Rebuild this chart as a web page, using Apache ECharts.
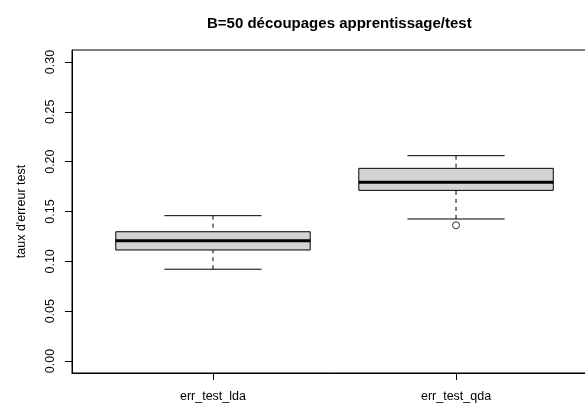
<!DOCTYPE html>
<html>
<head>
<meta charset="utf-8">
<script src="https://cdn.jsdelivr.net/npm/echarts@6/dist/echarts.min.js"></script>
<style>html,body{margin:0;padding:0;background:#fff}#c{width:585px;height:405px}</style>
</head>
<body>
<div id="c"></div>
<script>
// Data
const categories = ['err_test_lda', 'err_test_qda'];
const whiskerLow = [0.0921, 0.1425];
const q1 = [0.1114, 0.1712];
const median = [0.1207, 0.1793];
const q3 = [0.1297, 0.1933];
const whiskerHigh = [0.1458, 0.2060];
const outliers = [[2, 0.1362]];
const yTicks = [0, 0.05, 0.10, 0.15, 0.20, 0.25, 0.30];

const boxData = categories.map((c, i) => [i + 1, whiskerLow[i], q1[i], median[i], q3[i], whiskerHigh[i]]);

const FONT = 'Liberation Sans, Arial, sans-serif';
const chart = echarts.init(document.getElementById('c'), null, {renderer: 'canvas'});

function renderBox(params, api) {
  const x = api.value(0);
  const lo = api.value(1), a = api.value(2), m = api.value(3), b = api.value(4), hi = api.value(5);
  const hw = 0.4, cw = 0.2;
  const pTL = api.coord([x - hw, b]);
  const pBR = api.coord([x + hw, a]);
  const c = api.coord([x, m]);
  const cL = api.coord([x - hw, m]);
  const cR = api.coord([x + hw, m]);
  const pHi = api.coord([x, hi]);
  const pLo = api.coord([x, lo]);
  const capL = api.coord([x - cw, hi])[0];
  const capR = api.coord([x + cw, hi])[0];
  const blk = '#000';
  return {
    type: 'group',
    children: [
      {type: 'line', shape: {x1: pHi[0], y1: pHi[1], x2: pHi[0], y2: pTL[1]}, style: {stroke: blk, lineWidth: 1, lineDash: [4, 4]}},
      {type: 'line', shape: {x1: pLo[0], y1: pLo[1], x2: pLo[0], y2: pBR[1]}, style: {stroke: blk, lineWidth: 1, lineDash: [4, 4]}},
      {type: 'line', shape: {x1: capL, y1: pHi[1], x2: capR, y2: pHi[1]}, style: {stroke: blk, lineWidth: 1}},
      {type: 'line', shape: {x1: capL, y1: pLo[1], x2: capR, y2: pLo[1]}, style: {stroke: blk, lineWidth: 1}},
      {type: 'rect', shape: {x: pTL[0], y: pTL[1], width: pBR[0] - pTL[0], height: pBR[1] - pTL[1]}, style: {fill: '#D3D3D3', stroke: blk, lineWidth: 1}},
      {type: 'line', shape: {x1: cL[0], y1: c[1], x2: cR[0], y2: c[1]}, style: {stroke: blk, lineWidth: 3}}
    ]
  };
}

chart.setOption({
  animation: false,
  backgroundColor: '#fff',
  title: {
    text: 'B=50 découpages apprentissage/test',
    left: 202, top: 11,
    textStyle: {fontFamily: FONT, fontSize: 15, fontWeight: 'bold', color: '#000'}
  },
  grid: {left: 72, top: 50, right: -12, bottom: 32, outerBoundsMode: 'none', show: true, borderColor: '#000', borderWidth: 1, backgroundColor: 'transparent', containLabel: false},
  xAxis: {
    type: 'value', min: 0.42, max: 2.58,
    splitLine: {show: false},
    axisLine: {show: true, onZero: false, lineStyle: {color: '#000'}},
    axisTick: {show: true, length: 7, lineStyle: {color: '#000'}, customValues: [1, 2]},
    axisLabel: {customValues: [1, 2], margin: 17, fontFamily: FONT, fontSize: 12.5, color: '#000',
      formatter: v => categories[Math.round(v) - 1] || ''}
  },
  yAxis: {
    type: 'value', min: -0.012, max: 0.312,
    name: "taux d'erreur test", nameLocation: 'middle', nameGap: 44, nameRotate: 90,
    nameTextStyle: {fontFamily: FONT, fontSize: 12.5, color: '#000'},
    splitLine: {show: false},
    axisLine: {show: true, onZero: false, lineStyle: {color: '#000'}},
    axisTick: {show: true, length: 7, lineStyle: {color: '#000'}, customValues: yTicks},
    axisLabel: {customValues: yTicks, rotate: 90, margin: 15, fontFamily: FONT, fontSize: 12.5, color: '#000',
      formatter: v => v.toFixed(2)}
  },
  series: [
    {type: 'custom', renderItem: renderBox, data: boxData, clip: false, encode: {x: 0, y: [1, 2, 3, 4, 5]}},
    {type: 'scatter', data: outliers, symbol: 'circle', symbolSize: 7,
      itemStyle: {color: '#fff', borderColor: '#000', borderWidth: 1}}
  ]
});
</script>
</body>
</html>
